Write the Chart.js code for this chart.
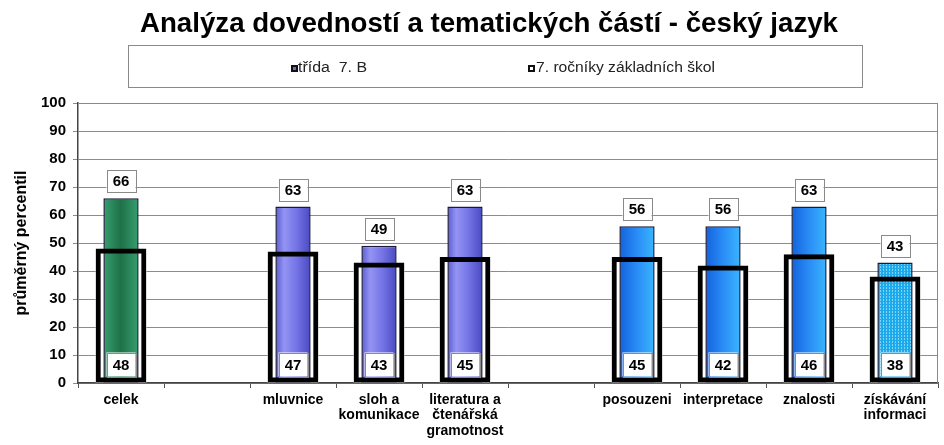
<!DOCTYPE html>
<html>
<head>
<meta charset="utf-8">
<script src="https://cdn.jsdelivr.net/npm/chart.js@4"></script>
<style>
html,body{margin:0;padding:0;background:#fff;}
#wrap{width:944px;height:445px;}
</style>
</head>
<body>
<div id="wrap"><canvas id="c" width="944" height="445"></canvas></div>
<script>
const titleText = 'Analýza dovedností a tematických částí - český jazyk';
const legendLabels = ['třída  7. B', '7. ročníky základních škol'];
const categories = ['celek', '', 'mluvnice', ['sloh a', 'komunikace'], ['literatura a', 'čtenářská', 'gramotnost'], '', 'posouzeni', 'interpretace', 'znalosti', ['získávání', 'informaci']];
const classValues = [66, null, 63, 49, 63, null, 56, 56, 63, 43];
const schoolValues = [48, null, 47, 43, 45, null, 45, 42, 46, 38];
const yTitle = 'průměrný percentil';

const FONT = "'Liberation Sans', Arial, sans-serif";
const groupOf = [0, 0, 1, 1, 1, 0, 2, 2, 2, 3];
const CLASS_PCT = 0.41, SCHOOL_PCT = 0.59;

function makePattern() {
  const c = document.createElement('canvas');
  c.width = 3; c.height = 3;
  const g = c.getContext('2d');
  g.fillStyle = '#1ea9ea'; g.fillRect(0, 0, 3, 3);
  g.fillStyle = '#7fd3fb'; g.fillRect(1, 0, 1, 1); g.fillRect(1, 2, 1, 1);
  return document.getElementById('c').getContext('2d').createPattern(c, 'repeat');
}
let pattern = null;

function classColor(ctx) {
  const chart = ctx.chart, i = ctx.dataIndex;
  if (!chart.chartArea || !chart.scales.x) return '#7676e6';
  const g = groupOf[i];
  if (g === 3) { if (!pattern) pattern = makePattern(); return pattern; }
  const xs = chart.scales.x;
  const cx = xs.getPixelForValue(i);
  const w = (xs.width / categories.length) * CLASS_PCT;
  const grad = chart.ctx.createLinearGradient(cx - w / 2, 0, cx + w / 2, 0);
  if (g === 0) {
    grad.addColorStop(0, '#36a06e'); grad.addColorStop(0.5, '#1f7048'); grad.addColorStop(1, '#36a06e');
  } else if (g === 1) {
    grad.addColorStop(0, '#5a5ad0'); grad.addColorStop(0.25, '#9494f4'); grad.addColorStop(0.6, '#7474e6'); grad.addColorStop(1, '#4a4ac0');
  } else {
    grad.addColorStop(0, '#1262dc'); grad.addColorStop(0.5, '#2a8cf6'); grad.addColorStop(1, '#3ab6ff');
  }
  return grad;
}

function stretchedText(c, txt, x, y, targetW) {
  const w = c.measureText(txt).width;
  const sx = targetW / w;
  c.save();
  c.translate(x, y);
  c.scale(sx, 1);
  c.fillText(txt, 0, 0);
  c.restore();
}

const decor = {
  id: 'decor',
  beforeDraw(chart) {
    const c = chart.ctx;
    c.save();
    c.fillStyle = '#fff';
    c.fillRect(0, 0, chart.width, chart.height);
    // title
    c.fillStyle = '#000';
    c.font = 'bold 28px ' + FONT;
    c.textAlign = 'left';
    c.textBaseline = 'alphabetic';
    stretchedText(c, titleText, 140, 32, 698);
    // legend box
    c.strokeStyle = '#8a8a8a';
    c.lineWidth = 1;
    c.strokeRect(128.5, 45.5, 734, 42);
    const items = [{x: 291, inner: '#6a6ae0', tx: 298, tw: 69}, {x: 528, inner: '#ffffff', tx: 536, tw: 179}];
    c.font = '14px ' + FONT;
    c.textAlign = 'left';
    c.textBaseline = 'middle';
    items.forEach((it, k) => {
      c.fillStyle = '#111';
      c.fillRect(it.x, 65, 7, 7);
      c.fillStyle = it.inner;
      c.fillRect(it.x + 2, 67, 3, 3);
      c.fillStyle = '#222';
      stretchedText(c, legendLabels[k], it.tx, 68.5, it.tw);
    });
    c.restore();
  },
  beforeDatasetsDraw(chart) {
    const a = chart.chartArea, c = chart.ctx;
    c.save();
    c.strokeStyle = '#8a8a8a';
    c.lineWidth = 1;
    c.beginPath();
    c.moveTo(a.left, a.top + 0.5); c.lineTo(a.right - 0.5, a.top + 0.5); c.lineTo(a.right - 0.5, a.bottom);
    c.stroke();
    c.restore();
  },
  afterDatasetsDraw(chart) {
    const c = chart.ctx;
    const classMeta = chart.getDatasetMeta(1);
    const schoolMeta = chart.getDatasetMeta(2);
    c.save();
    c.font = 'bold 15px ' + FONT;
    c.textAlign = 'center';
    c.textBaseline = 'middle';
    const box = (cx, top, w, h, txt) => {
      c.fillStyle = '#fff';
      c.fillRect(cx - w / 2, top, w, h);
      c.strokeStyle = '#8a8a8a';
      c.lineWidth = 1;
      c.strokeRect(Math.round(cx - w / 2) + 0.5, Math.round(top) + 0.5, w, h);
      c.fillStyle = '#000';
      c.fillText(txt, cx, top + h / 2 + 1);
    };
    classValues.forEach((v, i) => {
      if (v == null) return;
      const el = classMeta.data[i];
      box(el.x, el.y - 6 - 22, 29, 22, String(v));
    });
    schoolValues.forEach((v, i) => {
      if (v == null) return;
      const el = schoolMeta.data[i];
      box(el.x, el.base - 6 - 24, 29, 24, String(v));
    });
    c.restore();
  }
};

new Chart(document.getElementById('c'), {
  type: 'bar',
  data: {
    labels: categories,
    datasets: [
      {
        label: 'fill',
        data: schoolValues,
        backgroundColor: '#ffffff',
        borderWidth: 0,
        barPercentage: SCHOOL_PCT,
        categoryPercentage: 1,
        grouped: false,
        order: 3
      },
      {
        label: legendLabels[0],
        data: classValues,
        backgroundColor: classColor,
        borderColor: '#1a1a3a',
        borderWidth: 1.5,
        borderSkipped: false,
        barPercentage: CLASS_PCT,
        categoryPercentage: 1,
        grouped: false,
        order: 2
      },
      {
        label: legendLabels[1],
        data: schoolValues,
        backgroundColor: 'rgba(0,0,0,0)',
        borderColor: '#000',
        borderWidth: 5,
        borderSkipped: false,
        barPercentage: SCHOOL_PCT,
        categoryPercentage: 1,
        grouped: false,
        order: 1
      }
    ]
  },
  options: {
    responsive: false,
    animation: false,
    devicePixelRatio: 1,
    layout: { padding: { top: 103, right: 6, left: 0, bottom: 0 } },
    plugins: {
      legend: { display: false },
      title: { display: false },
      tooltip: { enabled: false }
    },
    scales: {
      x: {
        offset: true,
        grid: { drawOnChartArea: false, offset: true, tickLength: 5, color: '#555' },
        border: { color: '#444', width: 1.5 },
        ticks: {
          autoSkip: false, maxRotation: 0, minRotation: 0, padding: 4,
          color: '#000', font: { family: FONT, size: 14, weight: 'bold', lineHeight: 1.12 }
        },
        afterFit(s) { s.height = 62; }
      },
      y: {
        min: 0, max: 100,
        grid: { color: '#8c8c8c', tickLength: 5 },
        border: { color: '#444', width: 1.5 },
        ticks: {
          stepSize: 10, padding: 7, color: '#000',
          font: { family: FONT, size: 15, weight: 'bold' }
        },
        title: {
          display: true, text: yTitle, color: '#000',
          font: { family: FONT, size: 16, weight: 'bold' },
          padding: { top: 12, bottom: 0 }
        },
        afterFit(s) { s.width = 78; }
      }
    }
  },
  plugins: [decor]
});
</script>
</body>
</html>
